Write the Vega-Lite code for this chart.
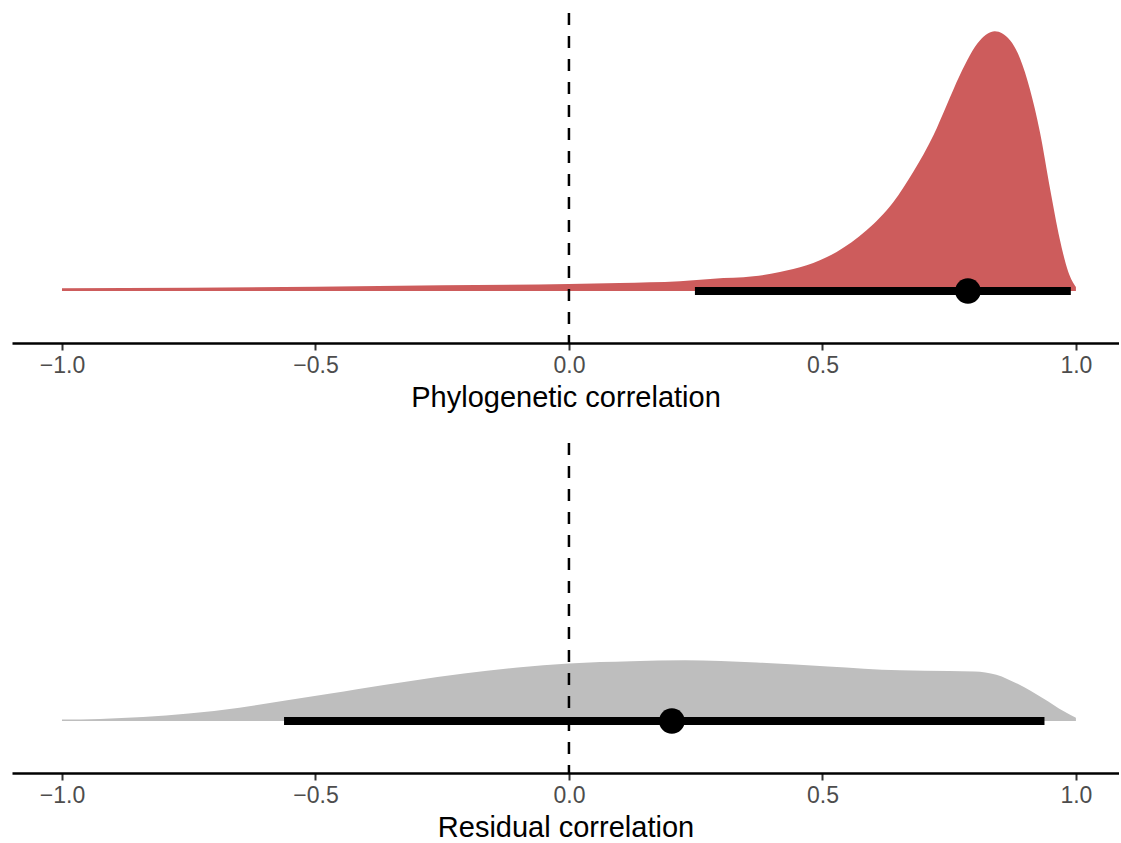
{
  "$schema": "https://vega.github.io/schema/vega-lite/v6.json",
  "padding": {"left": 12, "top": 6, "right": 0, "bottom": 0},
  "background": "white",
  "datasets": {
    "phylo": [
      {"x": -1.0, "density": 0.034}, {"x": -0.75, "density": 0.042}, {"x": -0.5, "density": 0.055},
      {"x": -0.25, "density": 0.072}, {"x": 0.0, "density": 0.089}, {"x": 0.1, "density": 0.102},
      {"x": 0.219, "density": 0.124}, {"x": 0.285, "density": 0.157}, {"x": 0.364, "density": 0.187},
      {"x": 0.416, "density": 0.242}, {"x": 0.469, "density": 0.327}, {"x": 0.528, "density": 0.497},
      {"x": 0.587, "density": 0.773}, {"x": 0.64, "density": 1.134}, {"x": 0.679, "density": 1.516},
      {"x": 0.719, "density": 1.983}, {"x": 0.745, "density": 2.366}, {"x": 0.771, "density": 2.748},
      {"x": 0.811, "density": 3.194}, {"x": 0.84, "density": 3.308}, {"x": 0.87, "density": 3.194},
      {"x": 0.89, "density": 2.959}, {"x": 0.909, "density": 2.577}, {"x": 0.929, "density": 2.025},
      {"x": 0.949, "density": 1.303}, {"x": 0.968, "density": 0.666}, {"x": 0.985, "density": 0.242},
      {"x": 1.0, "density": 0.051}
    ],
    "resid": [
      {"x": -1.0, "density": 0.019}, {"x": -0.925, "density": 0.027}, {"x": -0.84, "density": 0.05},
      {"x": -0.75, "density": 0.095}, {"x": -0.65, "density": 0.17}, {"x": -0.559, "density": 0.262},
      {"x": -0.47, "density": 0.35}, {"x": -0.418, "density": 0.405}, {"x": -0.312, "density": 0.51},
      {"x": -0.207, "density": 0.605}, {"x": -0.101, "density": 0.68}, {"x": 0.0, "density": 0.733},
      {"x": 0.123, "density": 0.762}, {"x": 0.229, "density": 0.775}, {"x": 0.37, "density": 0.745},
      {"x": 0.511, "density": 0.695}, {"x": 0.653, "density": 0.645}, {"x": 0.75, "density": 0.637},
      {"x": 0.8, "density": 0.632}, {"x": 0.843, "density": 0.59}, {"x": 0.886, "density": 0.47},
      {"x": 0.935, "density": 0.29}, {"x": 0.977, "density": 0.12}, {"x": 1.0, "density": 0.042}
    ],
    "phyloSummary": [{"estimate": 0.787, "lower": 0.2485, "upper": 0.99}],
    "residSummary": [{"estimate": 0.203, "lower": -0.562, "upper": 0.938}]
  },
  "config": {
    "view": {"stroke": null},
    "concat": {"spacing": 24},
    "axis": {
      "domainColor": "black", "domainWidth": 2.5,
      "tickColor": "#333333", "tickWidth": 2, "tickSize": 7,
      "labelFont": "Liberation Sans", "labelFontSize": 23, "labelColor": "#4D4D4D", "labelPadding": 4,
      "titleFont": "Liberation Sans", "titleFontSize": 29, "titleFontWeight": "normal", "titleColor": "black", "titlePadding": 6,
      "grid": false
    }
  },
  "vconcat": [
    {
      "width": 1107, "height": 335,
      "layer": [
        {
          "data": {"name": "phylo"},
          "mark": {"type": "area", "color": "#CD5C5C", "interpolate": "monotone"},
          "encoding": {
            "x": {"field": "x", "type": "quantitative", "scale": {"domain": [-1.0986, 1.085], "nice": false, "zero": false},
                  "axis": {"values": [-1, -0.5, 0, 0.5, 1], "format": ".1f", "title": "Phylogenetic correlation"}},
            "y": {"field": "density", "type": "quantitative", "scale": {"domain": [-0.6624, 3.605], "nice": false, "zero": false}, "axis": null},
            "y2": {"datum": 0}
          }
        },
        {
          "data": {"name": "phyloSummary"},
          "mark": {"type": "rule", "color": "black", "strokeWidth": 8},
          "encoding": {"x": {"field": "lower", "type": "quantitative"}, "x2": {"field": "upper"}, "y": {"datum": 0}}
        },
        {
          "data": {"name": "phyloSummary"},
          "mark": {"type": "point", "filled": true, "color": "black", "opacity": 1, "size": 660},
          "encoding": {"x": {"field": "estimate", "type": "quantitative"}, "y": {"datum": 0}}
        },
        {
          "data": {"values": [{"v": 0}]},
          "mark": {"type": "rule", "color": "black", "strokeWidth": 2.5, "strokeDash": [12, 11], "strokeDashOffset": 18},
          "encoding": {"x": {"field": "v", "type": "quantitative"}}
        }
      ]
    },
    {
      "width": 1107, "height": 335,
      "layer": [
        {
          "data": {"name": "resid"},
          "mark": {"type": "area", "color": "#BEBEBE", "interpolate": "monotone"},
          "encoding": {
            "x": {"field": "x", "type": "quantitative", "scale": {"domain": [-1.0986, 1.085], "nice": false, "zero": false},
                  "axis": {"values": [-1, -0.5, 0, 0.5, 1], "format": ".1f", "title": "Residual correlation"}},
            "y": {"field": "density", "type": "quantitative", "scale": {"domain": [-0.6624, 3.605], "nice": false, "zero": false}, "axis": null},
            "y2": {"datum": 0}
          }
        },
        {
          "data": {"name": "residSummary"},
          "mark": {"type": "rule", "color": "black", "strokeWidth": 8},
          "encoding": {"x": {"field": "lower", "type": "quantitative"}, "x2": {"field": "upper"}, "y": {"datum": 0}}
        },
        {
          "data": {"name": "residSummary"},
          "mark": {"type": "point", "filled": true, "color": "black", "opacity": 1, "size": 660},
          "encoding": {"x": {"field": "estimate", "type": "quantitative"}, "y": {"datum": 0}}
        },
        {
          "data": {"values": [{"v": 0}]},
          "mark": {"type": "rule", "color": "black", "strokeWidth": 2.5, "strokeDash": [12, 11], "strokeDashOffset": 18},
          "encoding": {"x": {"field": "v", "type": "quantitative"}}
        }
      ]
    }
  ]
}
